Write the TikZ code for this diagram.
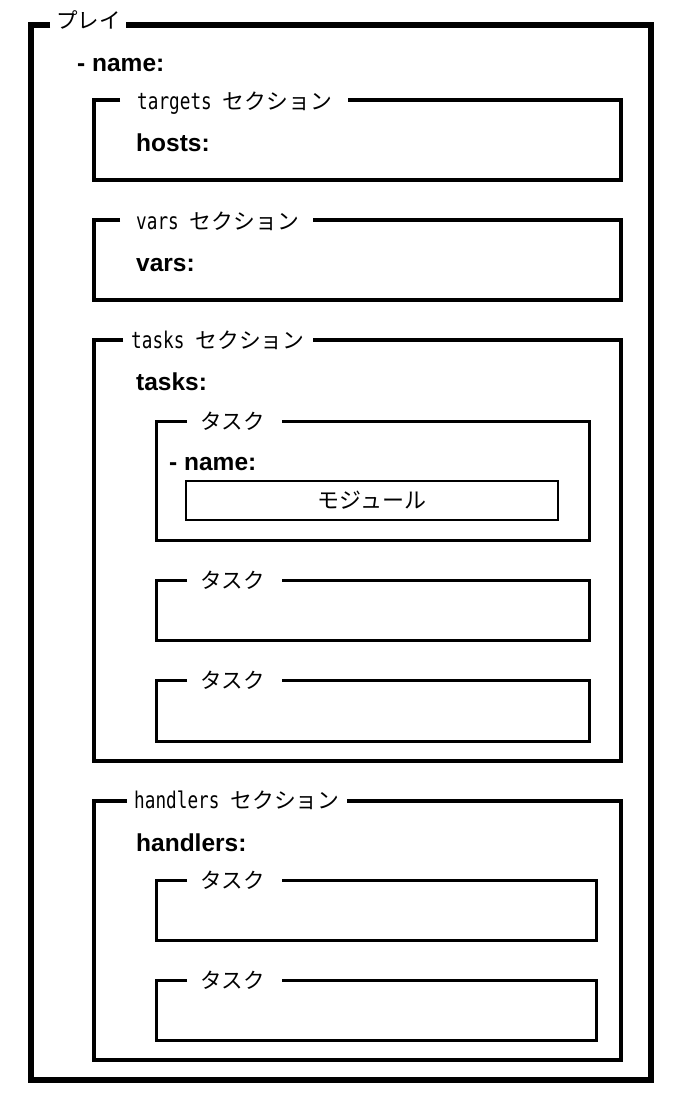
\documentclass[tikz,border=0pt]{standalone}
\usepackage{fontspec}
\newfontfamily\jpf{Noto Sans CJK JP}
\newfontfamily\latf[FakeStretch=0.77]{DejaVu Sans Mono}
\newfontfamily\bsf{Liberation Sans}
\newcommand\gframe[7]{\draw[line width=#7,line join=miter] (#5,#2) -- (#1,#2) -- (#1,#4) -- (#3,#4) -- (#3,#2) -- (#6,#2);}
\newcommand\seclab[1]{{\latf\fontsize{23}{27}\selectfont #1}\hspace{11pt}{\jpf\fontsize{21.8}{26}\selectfont セクション}}
\begin{document}
\begin{tikzpicture}[x=1pt,y=-1pt,
  jlab/.style={anchor=base west,inner sep=0pt,font=\jpf\fontsize{21.5}{24}\selectfont},
  slab/.style={anchor=base west,inner sep=0pt},
  key/.style={anchor=base west,inner sep=0pt,font=\bsf\bfseries\fontsize{24.5}{28}\selectfont},
  modbox/.style={draw,line width=2pt,minimum width=372pt,minimum height=39pt,inner sep=0pt,font=\jpf\fontsize{22}{26}\selectfont}]
\useasboundingbox (0,0) rectangle (683,1101);
% outer play frame
\gframe{31}{25}{651}{1080}{50}{126}{6pt}
\node[jlab] (play) at (56,28) {プレイ};
\node[key] (pname) at (77,71) {- name:};
% targets section
\gframe{94}{100}{621}{180}{120}{348}{3.5pt}
\node[slab] (tgt) at (137,109) {\seclab{targets}};
\node[key] (hosts) at (136,151) {hosts:};
% vars section
\gframe{94}{220}{621}{300}{120}{313}{3.5pt}
\node[slab] (vrs) at (136,229) {\seclab{vars}};
\node[key] (vars) at (136,271) {vars:};
% tasks section
\gframe{94}{340}{621}{761}{123}{313}{3.5pt}
\node[slab] (tsk) at (131,348) {\seclab{tasks}};
\node[key] (tasks) at (136,390) {tasks:};
% task 1
\gframe{156}{421}{589}{540}{187}{282}{3pt}
\node[jlab] (t1) at (200,429) {タスク};
\node[key] (tname) at (169,470) {- name:};
\node[modbox] (mod) at (372,500) {モジュール};
% task 2
\gframe{156}{580}{589}{640}{187}{282}{3pt}
\node[jlab] (t2) at (200,588) {タスク};
% task 3
\gframe{156}{680}{589}{741}{187}{282}{3pt}
\node[jlab] (t3) at (200,688) {タスク};
% handlers section
\gframe{94}{801}{621}{1060}{127}{347}{3.5pt}
\node[slab] (hnd) at (134,808) {\seclab{handlers}};
\node[key] (handlers) at (136,851) {handlers:};
% handler tasks
\gframe{156}{880}{596}{940}{187}{282}{3pt}
\node[jlab] (h1) at (200,888) {タスク};
\gframe{156}{980}{596}{1040}{187}{282}{3pt}
\node[jlab] (h2) at (200,988) {タスク};
\end{tikzpicture}
\end{document}
